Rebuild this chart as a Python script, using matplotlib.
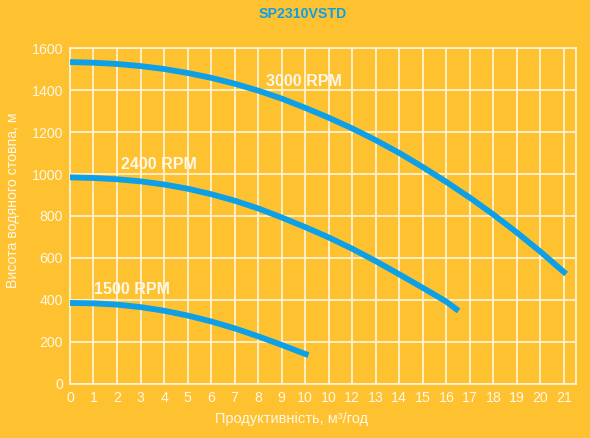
import matplotlib
matplotlib.use("Agg")
from matplotlib import pyplot as plt

# curve values (flow m3/h, head m)
flow_3000 = [0, 1, 2, 3, 4, 5, 6, 7, 8, 9, 10, 11, 12, 13, 14, 15, 16, 17, 18, 19, 20, 21.09]
head_3000 = [1533, 1530, 1524, 1514, 1500, 1481, 1458, 1430, 1397, 1359, 1315, 1268,
             1217, 1161, 1100, 1033, 962, 887, 807, 721, 630, 524]

flow_2400 = [0, 1, 2, 3, 4, 5, 6, 7, 8, 9, 10, 11, 12, 13, 14, 15, 16, 16.52]
head_2400 = [984, 981, 975, 965, 950, 930, 904, 873, 836, 793, 747, 698,
             644, 585, 522, 458, 392, 348]

flow_1500 = [0, 1, 2, 3, 4, 5, 6, 7, 8, 9, 10, 10.14]
head_1500 = [386, 384, 378, 366, 349, 326, 298, 265, 227, 186, 143, 138]

x_ticks = list(range(22))
x_tick_labels = ["0", "1", "2", "3", "4", "5", "6", "7", "8", "9", "10", "10",
                 "12", "13", "14", "15", "16", "17", "18", "19", "20", "21"]
y_ticks = [0, 200, 400, 600, 800, 1000, 1200, 1400, 1600]

series = [
    (flow_3000, head_3000, "3000 RPM", (8.33, 1440)),
    (flow_2400, head_2400, "2400 RPM", (2.16, 1043)),
    (flow_1500, head_1500, "1500 RPM", (1.03, 451)),
]

bg = "#FEC130"
blue = "#0DA0E6"
grid_c = "#FFF1D2"
txt_c = "#FFF8E8"

plt.rcParams['font.family'] = ['Liberation Sans', 'DejaVu Sans']

fig = plt.figure(figsize=(5.9, 4.38), dpi=100, facecolor=bg)
ax = fig.add_axes([0.1186, 0.1233, 0.9758 - 0.1186, 0.8904 - 0.1233])
ax.set_facecolor(bg)

for fx, hy, name, pos in series:
    ax.plot(fx, hy, color=blue, lw=4.2, solid_capstyle='butt',
            solid_joinstyle='round', zorder=3)
    ax.text(pos[0], pos[1], name, color=txt_c, fontsize=11.5, fontweight='bold',
            va='center', ha='left', zorder=4)

ax.set_xlim(0, 21.5)
ax.set_ylim(0, 1600)
ax.set_xticks(x_ticks)
ax.set_xticklabels(x_tick_labels)
ax.set_yticks(y_ticks)
ax.tick_params(length=0, labelsize=10.2, colors=txt_c, pad=5)
ax.grid(True, color=grid_c, lw=1.3, zorder=1)
ax.set_axisbelow(True)
for s in ax.spines.values():
    s.set_color(grid_c)
    s.set_linewidth(1.3)

ax.set_xlabel("Продуктивність, м³/год", fontsize=10.5, color=txt_c)
ax.xaxis.set_label_coords(0.439, -0.104)
ax.xaxis.label.set_va('center')
ax.set_ylabel("Висота водяного стовпа, м", fontsize=10.2, color=txt_c)
ax.yaxis.set_label_coords(-0.1127, 0.548)
ax.yaxis.label.set_va('center')

fig.text(302.5 / 590, 1 - 14.5 / 438, "SP2310VSTD", color=blue, fontsize=10.2,
         fontweight='bold', ha='center', va='center')

fig.savefig("out.png", dpi=100, facecolor=bg)
